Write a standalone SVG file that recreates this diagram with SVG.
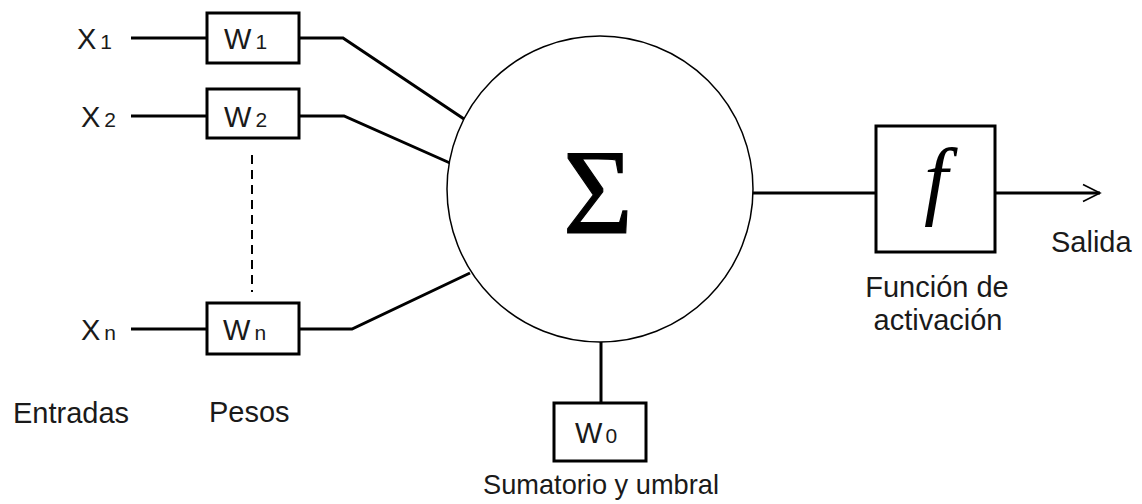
<svg xmlns="http://www.w3.org/2000/svg" width="1142" height="504" viewBox="0 0 1142 504">
  <style>
    .lbl { font-family: "Liberation Sans", Arial, sans-serif; font-size: 29px; fill: #1a1a1a; }
    .sub { font-size: 21px; }
    .box { fill: #fff; stroke: #000; stroke-width: 3; }
    .wire { fill: none; stroke: #000; stroke-width: 3; stroke-linejoin: miter; }
    .thin { fill: none; stroke: #000; stroke-width: 2; }
  </style>
  <defs>
    <marker id="open-arrow" viewBox="0 0 20 20" refX="18" refY="10" markerWidth="20" markerHeight="20" markerUnits="userSpaceOnUse" orient="auto">
      <path d="M1 1.5 L18 10 L1 18.5" fill="none" stroke="#000" stroke-width="1.6"/>
    </marker>
  </defs>
  <rect width="1142" height="504" fill="#fff"/>

  <!-- connectors -->
  <g id="connectors">
    <line class="wire" x1="131" y1="38" x2="207" y2="38"/>
    <line class="wire" x1="131" y1="116" x2="207" y2="116"/>
    <line class="wire" x1="131" y1="329" x2="207" y2="329"/>
    <polyline class="wire" points="299,38 343,38 467,121"/>
    <polyline class="wire" points="299,116 344,116 450,163"/>
    <polyline class="wire" points="299,329 352,329 470,273"/>
    <line class="thin" x1="252" y1="155" x2="252" y2="292" stroke-dasharray="9 6"/>
    <line class="wire" x1="601" y1="342" x2="601" y2="403"/>
    <line class="wire" x1="753" y1="193" x2="876" y2="193"/>
    <line class="wire" x1="995" y1="193" x2="1100" y2="193" marker-end="url(#open-arrow)"/>
  </g>

  <!-- inputs -->
  <g id="input-x1"><text class="lbl" x="77" y="49">X<tspan class="sub" dx="4">1</tspan></text></g>
  <g id="input-x2"><text class="lbl" x="81" y="127">X<tspan class="sub" dx="4">2</tspan></text></g>
  <g id="input-xn"><text class="lbl" x="81" y="340">X<tspan class="sub" dx="4">n</tspan></text></g>

  <!-- weights -->
  <g id="weight-w1">
    <rect class="box" x="207" y="13" width="92" height="50"/>
    <text class="lbl" x="224" y="49">W<tspan class="sub" dx="4">1</tspan></text>
  </g>
  <g id="weight-w2">
    <rect class="box" x="207" y="89" width="92" height="49"/>
    <text class="lbl" x="224" y="127">W<tspan class="sub" dx="4">2</tspan></text>
  </g>
  <g id="weight-wn">
    <rect class="box" x="207" y="303" width="92" height="51"/>
    <text class="lbl" x="223" y="340">W<tspan class="sub" dx="4">n</tspan></text>
  </g>

  <!-- summation -->
  <g id="summation">
    <circle cx="600" cy="189" r="153" fill="#fff" stroke="#000" stroke-width="1.5"/>
    <text x="598" y="233" text-anchor="middle" font-family="'Liberation Serif', 'Times New Roman', serif" font-size="120" fill="#000" stroke="#000" stroke-width="1.2">Σ</text>
  </g>

  <!-- bias / threshold -->
  <g id="threshold-w0">
    <rect class="box" x="554" y="403" width="92" height="58"/>
    <text class="lbl" x="575" y="443">W<tspan class="sub" dx="3">0</tspan></text>
  </g>

  <!-- activation function -->
  <g id="activation">
    <rect class="box" x="876" y="126" width="119" height="126"/>
    <text x="936" y="208" text-anchor="middle" font-family="'Liberation Serif', 'Times New Roman', serif" font-style="italic" font-size="86" fill="#000">f</text>
  </g>

  <!-- captions -->
  <g id="captions">
    <text class="lbl" x="13" y="423">Entradas</text>
    <text class="lbl" x="209" y="422">Pesos</text>
    <text class="lbl" x="1051" y="252">Salida</text>
    <text class="lbl" x="937" y="297" text-anchor="middle">Función de</text>
    <text class="lbl" x="938" y="330" text-anchor="middle">activación</text>
    <text class="lbl" x="601" y="494" text-anchor="middle" style="font-size:28px" textLength="236" lengthAdjust="spacingAndGlyphs">Sumatorio y umbral</text>
  </g>
</svg>
